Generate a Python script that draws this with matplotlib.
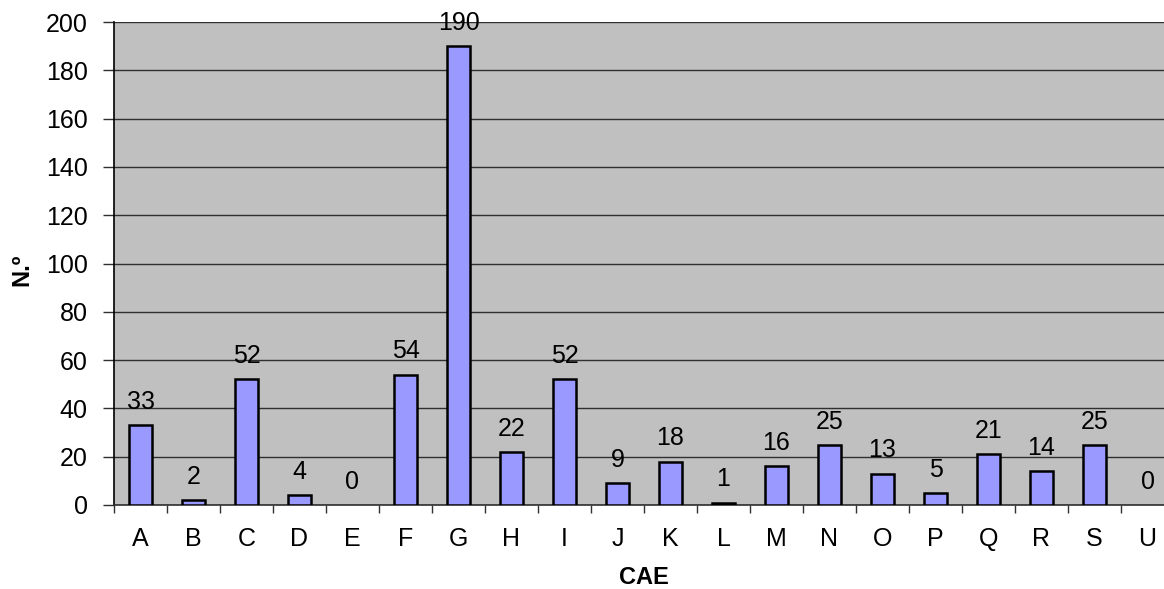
import matplotlib
matplotlib.use('Agg')
import matplotlib.pyplot as plt
import numpy as np

## data
categories = ['A', 'B', 'C', 'D', 'E', 'F', 'G', 'H', 'I', 'J',
              'K', 'L', 'M', 'N', 'O', 'P', 'Q', 'R', 'S', 'U']
counts = [33, 2, 52, 4, 0, 54, 190, 22, 52, 9,
          18, 1, 16, 25, 13, 5, 21, 14, 25, 0]
yticks = [0, 20, 40, 60, 80, 100, 120, 140, 160, 180, 200]

plt.rcParams['font.family'] = ['Liberation Sans', 'DejaVu Sans']

fig = plt.figure(figsize=(11.64, 5.89), dpi=100)
## plot area runs slightly past the right edge, as in the original
ax = fig.add_axes([114/1164, 1-505/589, 1060/1164, 483/589])
ax.set_facecolor('#C0C0C0')

x = np.arange(len(categories))
## zero bars get no outline (nothing shows in the original)
edge_w = [1.8 if v > 0 else 0 for v in counts]
ax.bar(x, counts, width=0.42, color='#9999FF', edgecolor='black', linewidth=edge_w, zorder=3)

for xi, v in zip(x, counts):
    ax.annotate(str(v), (xi, v), xytext=(0, 8), textcoords='offset points',
                ha='center', va='bottom', fontsize=18, annotation_clip=False)

ax.set_xlim(-0.5, len(categories) - 0.5)
ax.set_ylim(0, 200)
ax.set_yticks(yticks)
ax.yaxis.grid(True, color='#303030', linewidth=1.0, zorder=1)
ax.set_axisbelow(True)

ax.set_xticks(x)
ax.set_xticklabels(categories)
ax.set_xticks(np.arange(len(categories) + 1) - 0.5, minor=True)
ax.tick_params(axis='x', which='major', length=0, pad=16, labelsize=18)
ax.tick_params(axis='x', which='minor', length=6, width=1, color='#303030')
ax.tick_params(axis='y', length=8, width=1, color='#303030', labelsize=18, pad=11)

for s in ['top', 'right']:
    ax.spines[s].set_visible(False)
ax.spines['left'].set_linewidth(1.2)
ax.spines['bottom'].set_linewidth(1.2)
ax.spines['bottom'].set_color('#303030')

fig.text(22/1164, 1-270/589, 'N.º', rotation=90, ha='center', va='center',
         fontsize=17, fontweight='bold')
fig.text(644/1164, 1-577/589, 'CAE', ha='center', va='center',
         fontsize=17, fontweight='bold')

fig.savefig('out.png', dpi=100)
